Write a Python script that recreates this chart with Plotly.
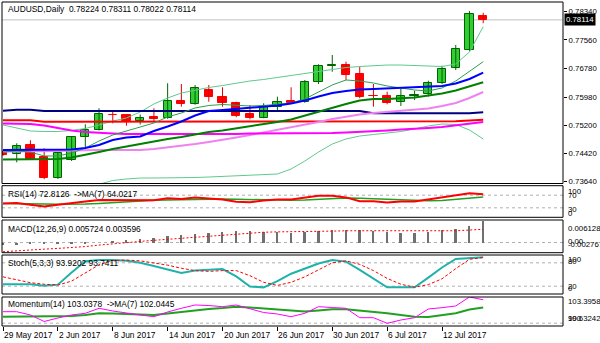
import plotly.graph_objects as go

# ---------------- AUDUSD daily bars ----------------
date_labels = ["29 May 2017", "2 Jun 2017", "8 Jun 2017", "14 Jun 2017", "20 Jun 2017",
               "26 Jun 2017", "30 Jun 2017", "6 Jul 2017", "12 Jul 2017"]
date_pos = [0, 4, 8, 12, 16, 20, 24, 28, 32]

opens = [0.74470, 0.74398, 0.74646, 0.74323, 0.73734, 0.74240, 0.74868, 0.75069, 0.75492, 0.75484,
         0.75327, 0.75421, 0.75393, 0.75871, 0.75780, 0.76175, 0.75973, 0.75808, 0.75512, 0.75409,
         0.75697, 0.75871, 0.75835, 0.76388, 0.76831, 0.76858, 0.76618, 0.76020, 0.76018, 0.75835,
         0.76023, 0.76056, 0.76361, 0.76775, 0.77281, 0.78224]
highs = [0.74516, 0.74702, 0.74785, 0.74564, 0.74470, 0.74890, 0.75227, 0.75669, 0.75567, 0.75484,
         0.75498, 0.75669, 0.76361, 0.76341, 0.76314, 0.76314, 0.76250, 0.75852, 0.75761, 0.75809,
         0.75990, 0.76250, 0.76452, 0.76886, 0.77143, 0.76958, 0.76819, 0.76341, 0.76128, 0.76203,
         0.76156, 0.76432, 0.76847, 0.77419, 0.78359, 0.78311]
lows = [0.74351, 0.74176, 0.74240, 0.73706, 0.73715, 0.74212, 0.74599, 0.75056, 0.75255, 0.75188,
        0.75221, 0.75299, 0.75379, 0.75714, 0.75766, 0.75852, 0.75714, 0.75421, 0.75365, 0.75393,
        0.75575, 0.75808, 0.75821, 0.76341, 0.76681, 0.76452, 0.75946, 0.75714, 0.75780, 0.75733,
        0.75899, 0.75990, 0.76341, 0.76728, 0.77254, 0.78022]
closes = [0.74378, 0.74635, 0.74268, 0.73734, 0.74434, 0.74868, 0.75056, 0.75504, 0.75476, 0.75327,
          0.75415, 0.75374, 0.75879, 0.75780, 0.76222, 0.75973, 0.75808, 0.75465, 0.75393, 0.75697,
          0.75852, 0.75824, 0.76405, 0.76831, 0.76880, 0.76590, 0.75990, 0.76005, 0.75824, 0.76018,
          0.76043, 0.76361, 0.76756, 0.77301, 0.78276, 0.78114]

# ---------------- overlays on the price chart ----------------
ma_navy = [0.75603, 0.75628, 0.75628] + [0.75595] * 24 + [0.75531] * 8 + [0.75559]
ma_red = [0.75338] * 3 + [0.75299] * 18 + [0.75313] * 13 + [0.75332, 0.75351]
ma_magenta = [0.75249, 0.75249, 0.75235, 0.75194, 0.75125, 0.75056, 0.75014, 0.74986, 0.74973, 0.74959,
              0.74959, 0.74945, 0.74945, 0.74945, 0.74945, 0.74945, 0.74945, 0.74959, 0.74973, 0.74973,
              0.74973, 0.74986, 0.74986, 0.74986, 0.74986, 0.75000, 0.75014, 0.75028, 0.75056, 0.75083,
              0.75097, 0.75125, 0.75152, 0.75194, 0.75235, 0.75291]
ma_violet = [0.74475, 0.74475, 0.74475, 0.74475, 0.74489, 0.74503, 0.74516, 0.74516, 0.74516, 0.74516,
             0.74516, 0.74544, 0.74586, 0.74627, 0.74682, 0.74738, 0.74793, 0.74862, 0.74931, 0.75000,
             0.75069, 0.75139, 0.75208, 0.75291, 0.75374, 0.75443, 0.75498, 0.75539, 0.75567, 0.75595,
             0.75622, 0.75664, 0.75733, 0.75816, 0.75954, 0.76120]
ma_blue = [0.74516, 0.74516, 0.74516, 0.74516, 0.74516, 0.74530, 0.74572, 0.74655, 0.74793, 0.74862,
           0.74890, 0.75042, 0.75166, 0.75304, 0.75470, 0.75595, 0.75622, 0.75650, 0.75678, 0.75705,
           0.75747, 0.75802, 0.75885, 0.75996, 0.76092, 0.76148, 0.76189, 0.76203, 0.76217, 0.76244,
           0.76258, 0.76272, 0.76286, 0.76355, 0.76479, 0.76654]
bb_mid = [0.74254, 0.74254, 0.74254, 0.74254, 0.74268, 0.74309, 0.74378, 0.74461, 0.74544, 0.74613,
          0.74696, 0.74751, 0.74821, 0.74876, 0.74945, 0.75014, 0.75056, 0.75111, 0.75166, 0.75221,
          0.75291, 0.75360, 0.75470, 0.75581, 0.75692, 0.75788, 0.75885, 0.75926, 0.75926, 0.75940,
          0.75968, 0.76023, 0.76079, 0.76162, 0.76272, 0.76388]
ma_fast = [0.74461, 0.74489, 0.74461, 0.74351, 0.74351, 0.74434, 0.74572, 0.74765, 0.74931, 0.75042,
           0.75152, 0.75263, 0.75429, 0.75539, 0.75678, 0.75747, 0.75774, 0.75761, 0.75733, 0.75747,
           0.75788, 0.75816, 0.75926, 0.76120, 0.76314, 0.76452, 0.76424, 0.76369, 0.76286, 0.76231,
           0.76175, 0.76148, 0.76231, 0.76424, 0.76701, 0.76958]
bb_upper = [0.75208, 0.75125, 0.75042, 0.75028, 0.75028, 0.75056, 0.75111, 0.75208, 0.75318, 0.75401,
            0.75567, 0.75788, 0.75954, 0.76092, 0.76175, 0.76244, 0.76300, 0.76369, 0.76424, 0.76466,
            0.76521, 0.76576, 0.76631, 0.76687, 0.76742, 0.76797, 0.76825, 0.76853, 0.76866, 0.76866,
            0.76853, 0.76825, 0.76825, 0.76894, 0.77226, 0.77925]
bb_lower = [None, None, None, None, None, None, 0.73466, 0.73576, 0.73673, 0.73715,
            0.73742, 0.73742, 0.73742, 0.73742, 0.73756, 0.73770, 0.73784, 0.73798, 0.73811, 0.73825,
            0.73853, 0.73991, 0.74212, 0.74461, 0.74682, 0.74821, 0.74903, 0.74945, 0.74986, 0.75028,
            0.75097, 0.75180, 0.75235, 0.75221, 0.75069, 0.74821]

# ---------------- oscillators ----------------
rsi = [44, 45, 40, 34, 40, 46, 50, 55, 55, 53, 54, 54, 60, 58, 63, 59, 56, 49, 48, 53,
       56, 56, 63, 68, 68, 63, 51, 51, 47, 50, 50, 57, 62, 69, 76, 72.8126]
rsi_ma = [44, 44, 43, 42, 41, 41, 42, 44, 47, 50, 52, 54, 55, 56, 57, 58, 58, 57, 56, 55,
          54, 54, 55, 57, 59, 61, 60, 58, 57, 55, 53, 52, 53, 56, 59, 64.0217]
macd = [-0.0008, -0.0007, -0.0005, -0.0004, -0.0005, -0.0004, -0.0002, 0.0000, 0.0002, 0.0006,
        0.0010, 0.0013, 0.0017, 0.0020, 0.0023, 0.0026, 0.0029, 0.0031, 0.0031, 0.0030,
        0.0028, 0.0027, 0.0029, 0.0032, 0.0035, 0.0035, 0.0033, 0.0031, 0.0028, 0.0027,
        0.0027, 0.0029, 0.0033, 0.0038, 0.0046, 0.005724]
macd_signal = [-0.0025, -0.0022, -0.0020, -0.0018, -0.0016, -0.0014, -0.0011, -0.0007, -0.0003, 0.0000,
               0.0003, 0.0006, 0.0009, 0.0012, 0.0015, 0.0018, 0.0021, 0.0024, 0.0026, 0.0028,
               0.0029, 0.0029, 0.0029, 0.0030, 0.0031, 0.0032, 0.0032, 0.0032, 0.0031, 0.0031,
               0.0030, 0.0030, 0.0031, 0.0032, 0.0034, 0.003596]
stoch_k = [25, 25, 25, 21, 24, 55, 84, 87, 87, 85, 80, 72, 63, 54, 60, 62, 64, 45, 19, 17,
           33, 52, 64, 78, 87, 83, 62, 40, 17, 17, 17, 42, 68, 90, 91, 93.9202]
stoch_d = [44, 36, 29, 25, 23, 33, 55, 75, 86, 87, 85, 80, 74, 66, 60, 58, 60, 60, 47, 30,
           22, 30, 44, 62, 80, 85, 76, 60, 40, 25, 17.5, 24, 39, 65, 89, 93.7411]
momentum = [101.49, 101.49, 101.06, 100.22, 100.67, 101.06, 101.28, 101.93, 101.58, 101.28,
            101.06, 100.84, 101.45, 101.93, 102.36, 102.29, 102.14, 102.36, 101.84, 101.38,
            101.19, 100.84, 101.28, 102.14, 102.03, 101.93, 100.71, 100.71, 99.98, 100.41,
            100.71, 101.84, 102.01, 102.23, 103.3958, 103.0378]
momentum_ma = [100.84, 100.84, 100.84, 100.84, 100.87, 100.93, 101.06, 101.28, 101.25, 101.19,
               101.12, 101.06, 101.25, 101.45, 101.71, 101.84, 101.97, 102.14, 102.03, 101.90,
               101.71, 101.58, 101.51, 101.64, 101.80, 101.80, 101.64, 101.45, 101.28, 101.06,
               100.84, 100.80, 101.06, 101.28, 101.77, 102.0445]

price_ticks = [0.78340, 0.77560, 0.76780, 0.75980, 0.75200, 0.74420, 0.73640]
last_price = 0.78114

# ---------------- page geometry (pixels) ----------------
W, H = 600, 343
L, R = 2, 563
TOP, BOT = 2, 326
panels = {            # top, bottom row of each pane
    "main": (2, 183.5),
    "rsi": (185.7, 217.3),
    "macd": (220, 252.7),
    "stoch": (255, 294),
    "mom": (297, 326),
}


def fy(y):
    return (BOT - y) / (BOT - TOP)


def dom(name):
    t, b = panels[name]
    return [fy(b), fy(t)]


FAMILY = "Liberation Sans, Arial, sans-serif"
FONT = dict(family=FAMILY, size=8.4, color="black")
SCALE_FONT = dict(family=FAMILY, size=7.8, color="black")
n = len(closes)
idx = list(range(n))

fig = go.Figure()

# candle wicks
up = [i for i in idx if closes[i] >= opens[i]]
dn = [i for i in idx if closes[i] < opens[i]]
for sel, col in ((up, "#006400"), (dn, "#E00000")):
    xs, ys = [], []
    for i in sel:
        xs += [i, i, None]
        ys += [lows[i], highs[i], None]
    fig.add_trace(go.Scatter(x=xs, y=ys, mode="lines", line=dict(color=col, width=1),
                             xaxis="x", yaxis="y", hoverinfo="skip", showlegend=False))

# candle bodies
fig.add_trace(go.Bar(
    x=idx, base=[min(o, c) for o, c in zip(opens, closes)],
    y=[abs(c - o) for o, c in zip(opens, closes)],
    width=0.6,
    marker=dict(color=["#32CD32" if c >= o else "#FF0000" for o, c in zip(opens, closes)],
                line=dict(color=["#006400" if c >= o else "#FF0000" for o, c in zip(opens, closes)],
                          width=1)),
    xaxis="x", yaxis="y", hoverinfo="skip", showlegend=False))

# moving averages / bands
overlays = [
    (bb_upper, "#5FC98C", 1), (bb_lower, "#5FC98C", 1),
    (ma_navy, "#000080", 2), (ma_red, "#FF0000", 2),
    (ma_violet, "#EE82EE", 2), (ma_magenta, "#FF00FF", 2),
    (bb_mid, "#008000", 2), (ma_fast, "#2E9E4E", 1), (ma_blue, "#0000FF", 2),
]
for vals, col, w in overlays:
    fig.add_trace(go.Scatter(x=idx, y=vals, mode="lines", line=dict(color=col, width=w),
                             xaxis="x", yaxis="y", hoverinfo="skip", showlegend=False))

# RSI
fig.add_trace(go.Scatter(x=idx, y=rsi_ma, mode="lines", line=dict(color="#22A022", width=1.5),
                         xaxis="x", yaxis="y2", showlegend=False))
fig.add_trace(go.Scatter(x=idx, y=rsi, mode="lines", line=dict(color="#FF0000", width=2),
                         xaxis="x", yaxis="y2", showlegend=False))
# MACD
fig.add_trace(go.Bar(x=idx, y=macd, width=0.14, marker=dict(color="#707070", line=dict(width=0)),
                     xaxis="x", yaxis="y3", showlegend=False))
fig.add_trace(go.Scatter(x=idx, y=macd_signal, mode="lines",
                         line=dict(color="#FF0000", width=1, dash="2px,2px"),
                         xaxis="x", yaxis="y3", showlegend=False))
# Stochastic
fig.add_trace(go.Scatter(x=idx, y=stoch_k, mode="lines", line=dict(color="#20B2AA", width=2),
                         xaxis="x", yaxis="y4", showlegend=False))
fig.add_trace(go.Scatter(x=idx, y=stoch_d, mode="lines",
                         line=dict(color="#FF0000", width=1, dash="3px,2px"),
                         xaxis="x", yaxis="y4", showlegend=False))
# Momentum
fig.add_trace(go.Scatter(x=idx, y=momentum_ma, mode="lines", line=dict(color="#22A022", width=2),
                         xaxis="x", yaxis="y5", showlegend=False))
fig.add_trace(go.Scatter(x=idx, y=momentum, mode="lines", line=dict(color="#FF00FF", width=1),
                         xaxis="x", yaxis="y5", showlegend=False))

# x range: bar 0 sits at pixel 3, 13.72 px per bar
px_per_bar = 13.72
x0 = -(3 - L) / px_per_bar
x1 = x0 + (R - L) / px_per_bar

shapes = []
# pane frames
for name in panels:
    d = dom(name)
    shapes.append(dict(type="rect", xref="paper", yref="paper", x0=0, x1=1, y0=d[0], y1=d[1],
                       line=dict(color="black", width=1), fillcolor="rgba(0,0,0,0)", layer="above"))
# level lines
levels = [("y2", 70), ("y2", 30), ("y3", 0), ("y4", 80), ("y4", 20), ("y5", 100)]
for ax, v in levels:
    shapes.append(dict(type="line", xref="paper", yref=ax, x0=0, x1=1, y0=v, y1=v,
                       line=dict(color="#B0B0B0", width=1, dash="3px,3px"), layer="below"))
# last bid line
shapes.append(dict(type="line", xref="paper", yref="y", x0=0, x1=1, y0=last_price, y1=last_price,
                   line=dict(color="#C0C0C0", width=1), layer="below"))

ann = []


def text_at(txt, xpix, ypix, font=FONT):
    ann.append(dict(text=txt, xref="paper", yref="paper", x=(xpix - L) / (R - L), y=fy(ypix),
                    xanchor="left", yanchor="middle", showarrow=False, font=font))


text_at("AUDUSD,Daily  0.78224 0.78311 0.78022 0.78114", 6, 9)
text_at("RSI(14) 72.8126  ->MA(7) 64.0217", 6, 193.5)
text_at("MACD(12,26,9) 0.005724 0.003596", 6, 229)
text_at("Stoch(5,3,3) 93.9202 93.7411", 6, 263)
text_at("Momentum(14) 103.0378  ->MA(7) 102.0445", 6, 304)

# right-hand scale labels of the lower panes
for txt, ypix in [("100", 191.5), ("70", 195.5), ("30", 209.5), ("0", 213.5),
                  ("0.006128", 228.5), ("0.00", 241.5), ("-0.002767", 244),
                  ("100", 259), ("80", 261.5), ("20", 286), ("0", 288.5),
                  ("103.3958", 301.5), ("99.63242", 318.5), ("100", 318.5)]:
    text_at(txt, R + 3, ypix, SCALE_FONT)

# bid price box
ann.append(dict(text="0.78114", xref="paper", yref="y", x=1, y=last_price, xanchor="left",
                yanchor="middle", xshift=1, showarrow=False,
                font=dict(family=FAMILY, size=7.8, color="white"),
                bgcolor="black", borderpad=1))

# date labels start at their tick
for p, lab in zip(date_pos, date_labels):
    ann.append(dict(text=lab, xref="x", yref="paper", x=p, y=fy(335), xanchor="left",
                    yanchor="middle", xshift=-1, showarrow=False, font=FONT))

axis_common = dict(showgrid=False, zeroline=False, showline=False, fixedrange=True)
fig.update_layout(
    width=W, height=H,
    margin=dict(l=L, r=W - R, t=TOP, b=H - BOT, pad=0),
    paper_bgcolor="white", plot_bgcolor="white",
    showlegend=False, barmode="overlay", bargap=0,
    font=FONT,
    xaxis=dict(range=[x0, x1], anchor="y5", tickmode="array", tickvals=date_pos,
               ticks="outside", ticklen=4, tickcolor="black", showticklabels=False, **axis_common),
    yaxis=dict(domain=dom("main"), range=[0.786635 - 0.00027647 * 183.5, 0.786635 - 0.00027647 * 2],
               side="right", anchor="x", tickmode="array", tickvals=price_ticks,
               ticktext=[f"{v:.5f}" for v in price_ticks], ticks="outside", ticklen=3,
               tickcolor="black", tickfont=SCALE_FONT, **axis_common),
    yaxis2=dict(domain=dom("rsi"), range=[0, 100], side="right", anchor="x",
                showticklabels=False, **axis_common),
    yaxis3=dict(domain=dom("macd"), range=[-0.002767, 0.006128], side="right", anchor="x",
                showticklabels=False, **axis_common),
    yaxis4=dict(domain=dom("stoch"), range=[0, 100], side="right", anchor="x",
                showticklabels=False, **axis_common),
    yaxis5=dict(domain=dom("mom"), range=[99.63242, 103.3958], side="right", anchor="x",
                showticklabels=False, **axis_common),
    shapes=shapes,
    annotations=ann,
)

fig.write_html("out.html")
